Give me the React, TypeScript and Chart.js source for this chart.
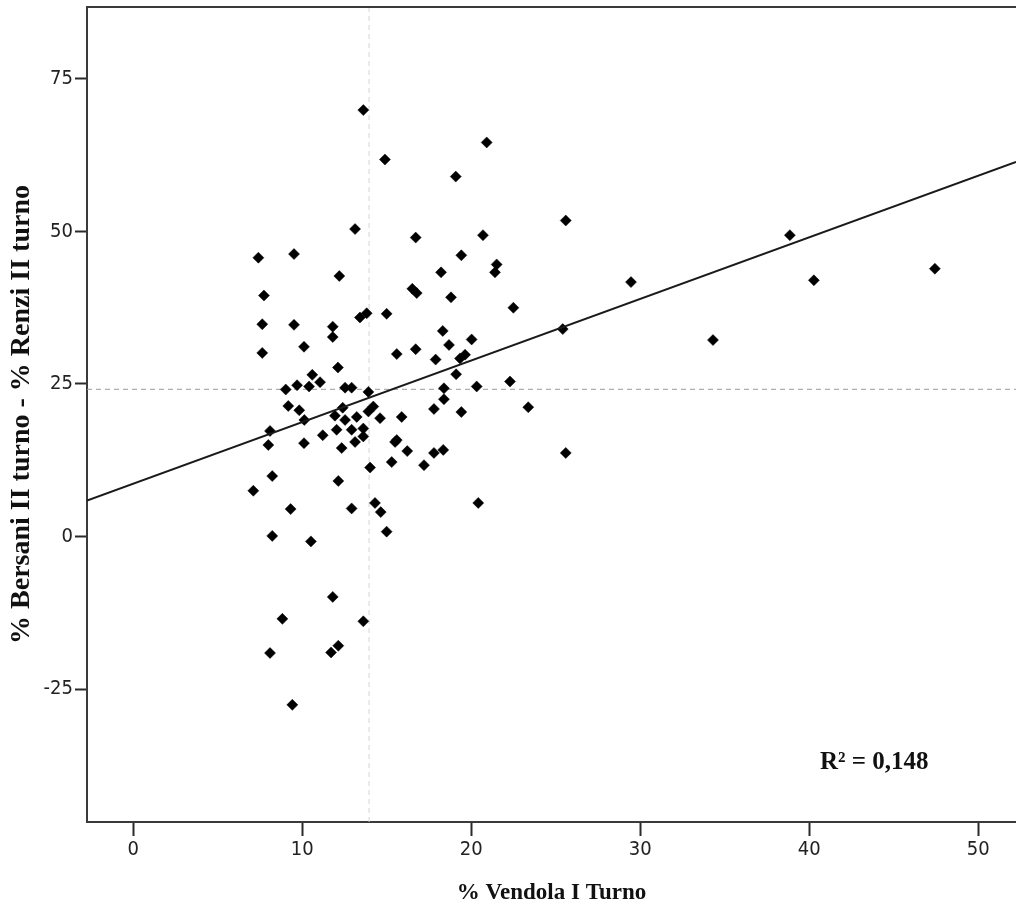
import React, { useEffect, useRef } from "react";
import { Chart, registerables } from "chart.js";

Chart.register(...registerables);

// Scatter points: % Vendola (I turno) vs % Bersani - % Renzi (II turno)
const vendolaX: number[] = [
  13.61, 14.89, 13.12, 7.4, 9.51, 12.19, 7.73, 7.63, 9.51, 11.8, 11.8, 13.41, 13.81, 14.99,
  7.63, 10.1, 15.59, 12.11, 10.59, 11.05, 9.69, 10.4, 9.02, 12.53, 12.92, 13.91, 9.17, 9.82,
  12.39, 14.2, 13.91, 10.12, 11.93, 12.53, 13.22, 14.6, 15.88,
  8.09, 7.99, 10.1, 11.21, 12.03, 12.92, 13.61, 13.12, 13.61, 12.33, 15.49, 15.29, 14.01,
  8.22, 12.13, 7.1, 9.31, 12.92, 14.3, 14.64, 14.99, 8.22, 10.51, 11.8, 8.82, 13.61, 12.13,
  11.7, 8.09, 9.41,
  20.91, 19.08, 25.59, 16.71, 20.69, 19.41, 21.5, 21.4, 18.21, 16.51, 16.77, 18.8, 22.49,
  18.31, 25.41, 20.02, 18.68, 16.71, 17.89, 19.63, 19.33, 19.1, 22.29, 20.32, 18.38, 18.38,
  23.37, 17.79, 19.41, 15.59, 16.21, 17.79, 18.34, 17.2, 25.59, 20.41,
  29.45, 34.3, 38.85, 40.27, 47.43,
];
const diffY: number[] = [
  69.9, 61.8, 50.4, 45.7, 46.3, 42.7, 39.5, 34.8, 34.7, 34.4, 32.7, 35.9, 36.6, 36.5,
  30.1, 31.1, 29.9, 27.7, 26.5, 25.3, 24.8, 24.6, 24.1, 24.4, 24.4, 23.7, 21.4, 20.7,
  21.1, 21.3, 20.5, 19.1, 19.8, 19.1, 19.6, 19.4, 19.6,
  17.3, 15.0, 15.3, 16.6, 17.5, 17.5, 17.7, 15.5, 16.4, 14.5, 15.5, 12.2, 11.3,
  9.9, 9.1, 7.5, 4.5, 4.6, 5.5, 4.0, 0.8, 0.1, -0.8, -9.9, -13.5, -13.9, -17.9,
  -19.0, -19.1, -27.6,
  64.6, 59.0, 51.8, 49.0, 49.4, 46.1, 44.6, 43.3, 43.3, 40.6, 39.9, 39.2, 37.5,
  33.7, 34.0, 32.3, 31.4, 30.7, 29.0, 29.8, 29.2, 26.6, 25.4, 24.6, 24.3, 22.5,
  21.2, 20.9, 20.4, 15.8, 14.0, 13.7, 14.2, 11.7, 13.7, 5.5,
  41.7, 32.2, 49.4, 42.0, 43.9,
];

// Axis ranges
const xRange: number[] = [-2.74, 52.23];
const yRange: number[] = [-46.8, 86.8];
const xTickStep = 10;
const yTickStep = 25;

// Fit line (y = a + b x) and reference (mean) lines
const fitIntercept = 8.65;
const fitSlope = 1.01;
const meanX = 13.95;
const meanY = 24.13;
const r2Label = "R² = 0,148";

const xTitle = "% Vendola I Turno";
const yTitle = "% Bersani II turno - % Renzi II turno";

const tickFont = { family: '"Liberation Sans Narrow", "DejaVu Sans Condensed", "Arial Narrow", sans-serif', size: 20 };
const xTitleFont = { family: '"Liberation Serif", "Times New Roman", serif', size: 23, weight: "bold" as const };
const yTitleFont = { family: '"Liberation Serif", "Times New Roman", serif', size: 28, weight: "bold" as const };

export default function App() {
  const ref = useRef<HTMLCanvasElement | null>(null);

  useEffect(() => {
    if (!ref.current) return;
    const points = vendolaX.map((x, i) => ({ x, y: diffY[i] }));
    const fitLine = xRange.map((x) => ({ x, y: fitIntercept + fitSlope * x }));
    const vLine = yRange.map((y) => ({ x: meanX, y }));
    const hLine = xRange.map((x) => ({ x, y: meanY }));

    const framePlugin = {
      id: "frame",
      afterDraw(chart: any) {
        const { ctx, chartArea } = chart;
        ctx.save();
        ctx.strokeStyle = "#3a3a3a";
        ctx.lineWidth = 2;
        ctx.beginPath();
        ctx.moveTo(chartArea.left, chartArea.top);
        ctx.lineTo(chartArea.right, chartArea.top);
        ctx.stroke();
        ctx.fillStyle = "#111";
        ctx.font = 'bold 25px "Liberation Serif", "Times New Roman", serif';
        ctx.textAlign = "left";
        ctx.textBaseline = "middle";
        ctx.fillText(r2Label, chartArea.right - 196, chartArea.bottom - 59);
        ctx.restore();
      },
    };

    const chart = new Chart(ref.current, {
      type: "scatter",
      data: {
        datasets: [
          {
            data: fitLine,
            showLine: true,
            borderColor: "#1a1a1a",
            borderWidth: 2,
            pointRadius: 0,
          },
          {
            data: points,
            pointStyle: "rectRot",
            pointRadius: 5.5,
            backgroundColor: "#000",
            borderColor: "#000",
            borderWidth: 0.5,
          },
          {
            data: hLine,
            showLine: true,
            borderColor: "#9a9a9a",
            borderWidth: 1,
            borderDash: [5, 4],
            pointRadius: 0,
          },
          {
            data: vLine,
            showLine: true,
            borderColor: "#d4d4d4",
            borderWidth: 1,
            borderDash: [5, 4],
            pointRadius: 0,
          },
        ],
      },
      plugins: [framePlugin],
      options: {
        responsive: false,
        animation: false,
        layout: { autoPadding: false, padding: { top: 7, right: 0, left: 0, bottom: 0 } },
        plugins: { legend: { display: false }, tooltip: { enabled: false } },
        scales: {
          x: {
            type: "linear",
            min: xRange[0],
            max: xRange[1],
            afterFit: (s: any) => {
              s.height = 92;
              s.paddingLeft = 0;
              s.paddingRight = 0;
            },
            border: { display: true, color: "#3a3a3a", width: 2 },
            grid: { drawOnChartArea: false, drawTicks: true, tickLength: 14, tickColor: "#2a2a2a", tickWidth: 2 },
            ticks: { stepSize: xTickStep, includeBounds: false, color: "#222", font: tickFont, padding: 2, maxRotation: 0 },
            title: { display: true, text: xTitle, color: "#111", font: xTitleFont, padding: { top: 0, bottom: 7 } },
          },
          y: {
            type: "linear",
            min: yRange[0],
            max: yRange[1],
            afterFit: (s: any) => {
              s.width = 87;
              s.paddingTop = 0;
              s.paddingBottom = 0;
            },
            border: { display: true, color: "#3a3a3a", width: 2 },
            grid: { drawOnChartArea: false, drawTicks: true, tickLength: 12, tickColor: "#2a2a2a", tickWidth: 2 },
            ticks: { stepSize: yTickStep, includeBounds: false, color: "#222", font: tickFont, padding: 2 },
            title: { display: true, text: yTitle, color: "#111", font: yTitleFont, padding: { top: 5, bottom: 0 } },
          },
        },
      },
    });
    return () => chart.destroy();
  }, []);

  return (
    <div style={{ position: "fixed", left: 0, top: 0, width: 1016, height: 914, background: "#fff" }}>
      <canvas ref={ref} width={1016} height={914} style={{ display: "block", width: 1016, height: 914 }} />
    </div>
  );
}
